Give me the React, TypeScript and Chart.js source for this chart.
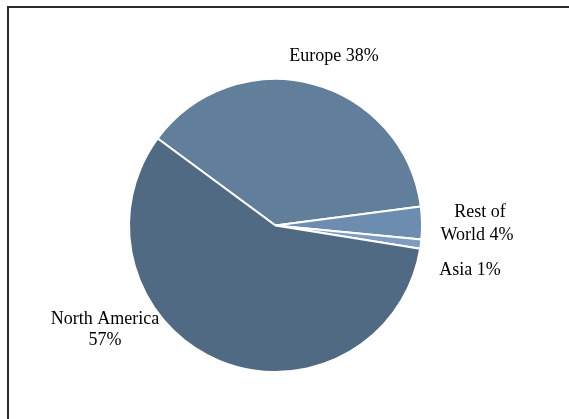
import React, { useEffect, useRef } from "react";
import { Chart, registerables } from "chart.js";

Chart.register(...registerables);

const categories = ["Europe", "Rest of World", "Asia", "North America"];
const values = [37.8, 3.6, 1.0, 57.6];
const pctLabels = ["38%", "4%", "1%", "57%"];
const colors = ["#617E9A", "#6C8CB0", "#7E9CBF", "#506A83"];

const FONT = "18px 'Liberation Serif', 'Times New Roman', serif";

const labelPlugin = {
  id: "sliceLabels",
  afterDraw(chart: any) {
    const ctx = chart.ctx;
    ctx.save();
    // frame
    ctx.fillStyle = "#2a2a2a";
    ctx.fillRect(7, 6, 569, 2);
    ctx.fillRect(7, 6, 2, 419);
    ctx.fillStyle = "#000";
    ctx.font = FONT;
    ctx.textAlign = "center";
    ctx.textBaseline = "middle";
    const lines: [string, number, number][] = [
      [categories[0] + " " + pctLabels[0], 334, 56],
      ["Rest of", 480, 212],
      ["World " + pctLabels[1], 477, 235],
      [categories[2] + " " + pctLabels[2], 470, 270],
      [categories[3], 105, 319],
      [pctLabels[3], 105, 340],
    ];
    for (const [t, x, y] of lines) ctx.fillText(t, x, y);
    ctx.restore();
  },
};

export default function App() {
  const ref = useRef<HTMLCanvasElement>(null);
  useEffect(() => {
    if (!ref.current) return;
    const chart = new Chart(ref.current, {
      type: "pie",
      data: {
        labels: categories,
        datasets: [
          {
            data: values,
            backgroundColor: colors,
            borderColor: "#ffffff",
            borderWidth: 2,
          },
        ],
      },
      options: {
        responsive: false,
        animation: false,
        rotation: -53.55,
        layout: { padding: { top: 78, bottom: 46, left: 100, right: 118 } },
        plugins: {
          legend: { display: false },
          tooltip: { enabled: false },
        },
      },
      plugins: [labelPlugin],
    });
    return () => chart.destroy();
  }, []);
  return (
    <div style={{ position: "fixed", left: 0, top: 0, width: 569, height: 419, background: "#fff" }}>
      <canvas ref={ref} width={569} height={419} style={{ display: "block" }} />
    </div>
  );
}
